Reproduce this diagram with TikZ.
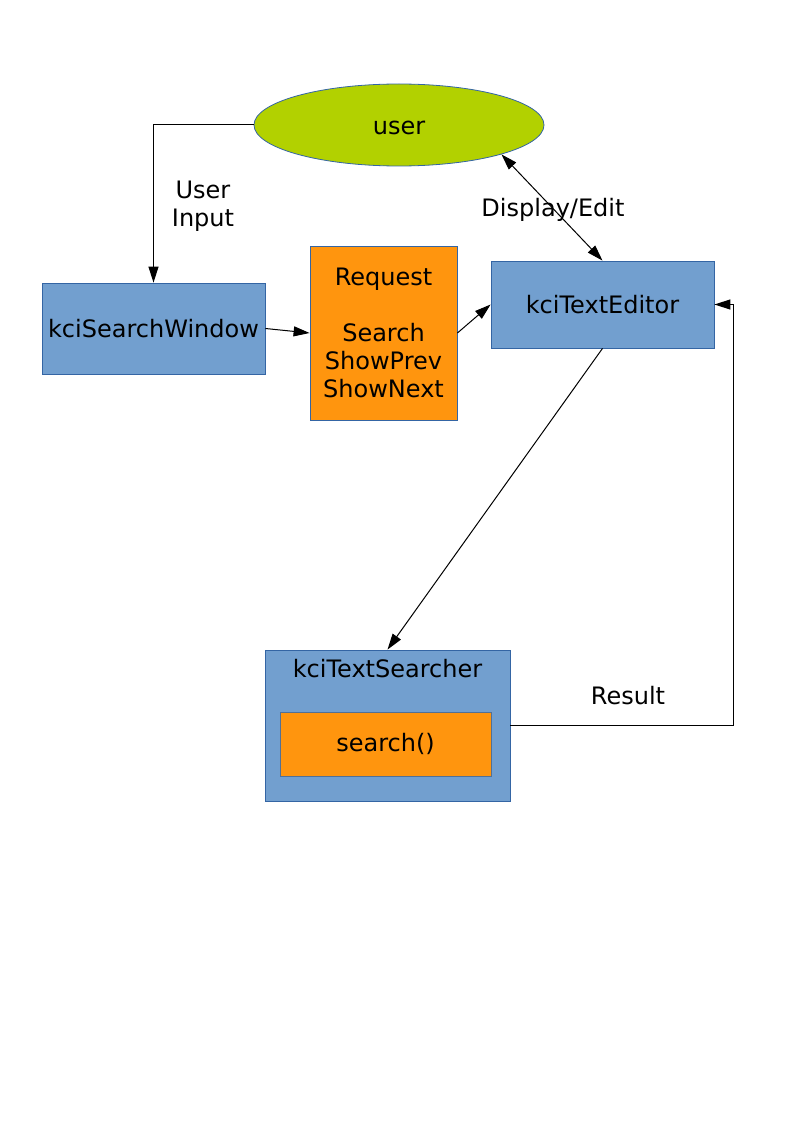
\documentclass[tikz,border=0pt]{standalone}
\usepackage{fontspec}
\setmainfont{DejaVu Sans}
\usetikzlibrary{arrows.meta,shapes.geometric}
\definecolor{boxblue}{HTML}{729FCF}
\definecolor{lineblue}{HTML}{3465A4}
\definecolor{boxorange}{HTML}{FF950E}
\definecolor{usergreen}{RGB}{178,209,0}
\begin{document}
\begin{tikzpicture}[x=0.75pt,y=-0.75pt,
  every node/.style={font=\fontsize{18pt}{21pt}\selectfont, inner sep=0pt},
  bluebox/.style={draw=lineblue, fill=boxblue, line width=0.6pt, rectangle},
  orangebox/.style={draw=lineblue, fill=boxorange, line width=0.6pt, rectangle},
  conn/.style={draw=black, line width=0.75pt},
  tip/.style={-{Triangle[length=12pt,width=7.5pt]}},
  lbl/.style={align=center}
]
\useasboundingbox (0,0) rectangle (794,1123);
\node[ellipse, draw=lineblue, fill=usergreen, line width=0.6pt, text height=13.7pt, text depth=0pt,
      minimum width=217.5pt, minimum height=61.5pt] (user) at (399,125) {user};
\node[bluebox, minimum width=167.25pt, minimum height=68.25pt] (sw) at (153.5,328.5) {kciSearchWindow};
\node[orangebox, minimum width=110.25pt, minimum height=130.5pt, align=center] (req) at (383.5,333)
  {Request\\[21pt]Search\\ShowPrev\\ShowNext};
\node[bluebox, minimum width=167.25pt, minimum height=65.25pt] (ed) at (602.5,304.5) {kciTextEditor};
\node[bluebox, minimum width=183.75pt, minimum height=113.25pt] (ts) at (387.5,725.5) {};
\node (tstitle) at (387.5,669) {kciTextSearcher};
\node[draw=lineblue!60!gray, fill=boxorange, line width=0.5pt, minimum width=158.25pt, minimum height=48pt] (srch) at (385.5,744) {search()};
\coordinate (rc) at (733,304.5);

\node[lbl] (uilbl) at (203,206) {User\\Input};
\node[lbl] (delbl) at (553,210) {Display/Edit};
\node[lbl] (reslbl) at (628,696) {Result};

\draw[conn,tip] (user.west) -| (sw.north);
\draw[conn,tip] (sw.east) -- (req.west);
\draw[conn,tip] (req.east) -- (ed.west);
\draw[conn,{Triangle[length=12pt,width=7.5pt]}-{Triangle[length=12pt,width=7.5pt]}] (user.-16) -- (ed.north);
\draw[conn,tip] (ed.south) -- (ts.north);
\draw[conn,tip] (ts.east) -| (rc) -- (ed.east);
\end{tikzpicture}
\end{document}
